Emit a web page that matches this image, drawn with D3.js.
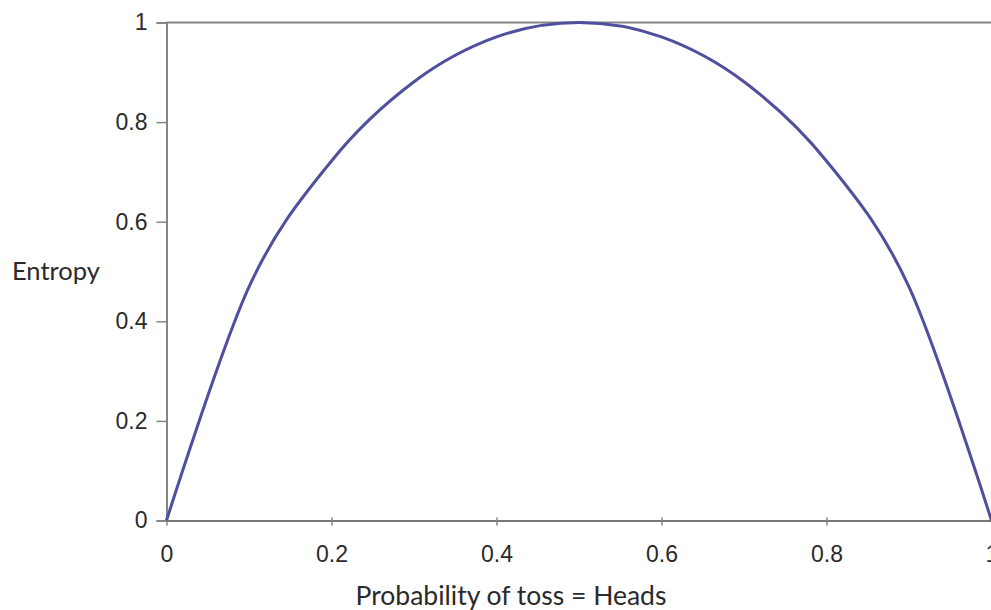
<!DOCTYPE html>
<html><head><meta charset="utf-8">
<script src="https://cdn.jsdelivr.net/npm/d3@7"></script>
<style>body{margin:0;background:#fff}svg{display:block}</style>
</head><body><svg id="c" width="991" height="610"></svg>
<script>
const probs   = [0,0.1,0.2,0.3,0.4,0.5,0.6,0.7,0.8,0.9,1];
const entropy = [0,0.469,0.722,0.881,0.971,1,0.971,0.881,0.722,0.469,0];
const xTicks = [0,0.2,0.4,0.6,0.8,1];
const yTicks = [0,0.2,0.4,0.6,0.8,1];
const xTitle = "Probability of toss = Heads";
const yTitle = "Entropy";

const svg = d3.select("#c");
const x = d3.scaleLinear().domain([0,1]).range([166.5,991.5]);
const y = d3.scaleLinear().domain([0,1]).range([520.5,22.5]);
const axisCol = "#858585";
const tickFont = "'Liberation Sans', Arial, sans-serif";
const titleFont = "Lato, 'Open Sans', sans-serif";

// top gridline at 1
svg.append("line").attr("x1",x(0)).attr("x2",x(1)).attr("y1",y(1)).attr("y2",y(1))
  .attr("stroke",axisCol).attr("stroke-width",2);

// y axis
const ya = svg.append("g").attr("transform",`translate(${x(0)},0)`)
  .call(d3.axisLeft(y).tickValues(yTicks).tickFormat(d3.format("")).tickSize(10).tickPadding(9));
ya.select(".domain").attr("stroke",axisCol).attr("stroke-width",2);
ya.selectAll(".tick line").attr("stroke",axisCol).attr("stroke-width",1.5);
ya.selectAll("text").attr("font-family",tickFont).attr("font-size",23).attr("fill","#2a2a2a");

// x axis
const xa = svg.append("g").attr("transform",`translate(0,${y(0)})`)
  .call(d3.axisBottom(x).tickValues(xTicks).tickFormat(d3.format("")).tickSize(5).tickPadding(20).tickSizeOuter(0));
xa.select(".domain").attr("stroke","#777").attr("stroke-width",2);
xa.selectAll(".tick line").attr("stroke",axisCol).attr("stroke-width",1.5).attr("y1",-3);
xa.selectAll("text").attr("font-family",tickFont).attr("font-size",23).attr("fill","#2a2a2a");

// curve (smoothed line through sampled points)
const data = probs.map((p,i)=>({p, h: entropy[i]}));
svg.append("path").datum(data)
  .attr("d", d3.line().x(d=>x(d.p)).y(d=>y(d.h)).curve(d3.curveCardinal.tension(0)))
  .attr("fill","none").attr("stroke","#4f4f9e").attr("stroke-width",3);

// titles
svg.append("text").attr("x",511).attr("y",605).attr("text-anchor","middle")
  .attr("font-family",titleFont).attr("font-size",26.5).attr("fill","#2a2a2a").text(xTitle);
svg.append("text").attr("x",12).attr("y",280).attr("text-anchor","start")
  .attr("font-family",titleFont).attr("font-size",25.5).attr("fill","#2a2a2a").text(yTitle);
</script></body></html>
